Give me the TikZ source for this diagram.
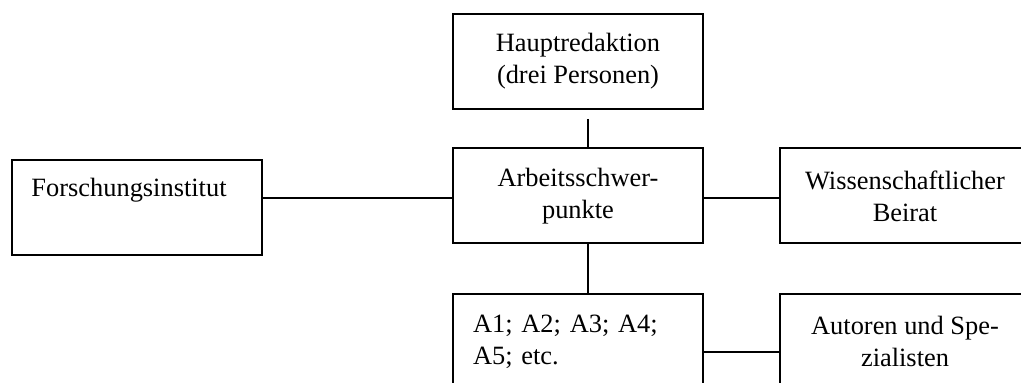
\documentclass[tikz,border=0pt]{standalone}
\usepackage{fontspec}
\setmainfont{Liberation Serif}
\begin{document}
\begin{tikzpicture}[x=0.5pt, y=-0.5pt,
        box/.style={draw, line width=1pt, minimum width=125pt, minimum height=47.5pt,
            inner sep=0pt, align=center, font=\fontsize{13.2}{16}\selectfont},
        leftbox/.style={box, text width=105pt, inner xsep=10pt, align=left},
        link/.style={line width=0.75pt}]
        \useasboundingbox (0, 0) rectangle (1021, 383);
        \clip (0, 0) rectangle (1021, 383);

        \node[box] (haupt) at (578, 61.5) {Hauptredaktion\\(drei Personen)};
        \node[box] (arbeit) at (578, 196) {Arbeitsschwer-\\punkte};
        \node[leftbox] (forsch) at (136.5, 208) {Forschungsinstitut\\\strut};
        \node[box] (beirat) at (905, 196) {Wissenschaftlicher\\Beirat};
        \node[leftbox] (aufgaben) at (578, 341.5) {A1; A2; A3; A4;\\A5; etc.};
        \node[box] (autoren) at (905, 341.5) {Autoren und Spe-\\zialisten};

        \draw[link] ([xshift=5pt, yshift=-4.5pt]haupt.south) coordinate (hauptfuss)
            -- (hauptfuss |- arbeit.north);
        \draw[link] ([xshift=5pt]arbeit.south) -- ([xshift=5pt]aufgaben.north);
        \draw[link] ([yshift=-1pt]arbeit.west) -- ([yshift=-1pt]arbeit.west -| forsch.east);
        \draw[link] ([yshift=-1pt]arbeit.east) -- ([yshift=-1pt]beirat.west);
        \draw[link] ([yshift=-5.25pt]aufgaben.east) -- ([yshift=-5.25pt]autoren.west);
    \end{tikzpicture}
\end{document}
